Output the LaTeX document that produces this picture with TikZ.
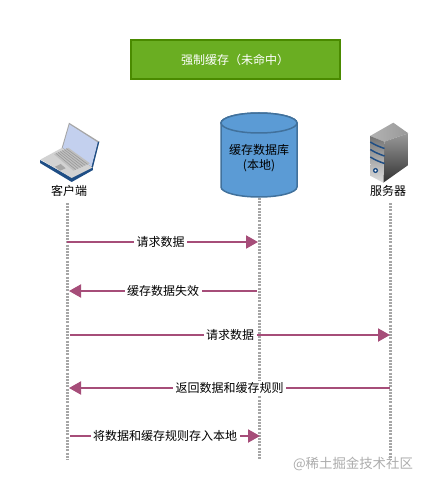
\documentclass[tikz,border=0pt]{standalone}
\usepackage{fontspec}
\setmainfont{Noto Sans CJK SC}
\usetikzlibrary{arrows.meta}
\definecolor{titlegreen}{HTML}{6AAE22}
\definecolor{titleedge}{HTML}{4A8A00}
\definecolor{dbblue}{HTML}{5B9BD5}
\definecolor{dbedge}{HTML}{41719C}
\definecolor{msgcolor}{HTML}{A64D79}
\definecolor{lapblue}{HTML}{1F4E85}
\definecolor{lapscreen}{HTML}{C3D0EE}
\tikzset{
  title/.style={draw=titleedge, fill=titlegreen, line width=2pt, text=white, minimum width=209pt, minimum height=39pt, font=\fontsize{12}{14}\selectfont},
  lifeline/.style={draw=gray!70, line width=3pt, dash pattern=on 2pt off 1.2pt},
  msg/.style={draw=msgcolor, line width=2pt, -{Triangle[length=12pt,width=13pt]}},
  msglabel/.style={fill=white, inner xsep=2.5pt, inner ysep=1pt, text=black, font=\fontsize{12}{14}\selectfont},
  caption/.style={font=\fontsize{12}{14}\selectfont}
}
\begin{document}
\begin{tikzpicture}[x=1pt, y=-1pt]
  \useasboundingbox (0,0) rectangle (428,486);
  \node[title] (head) at (235,60) {强制缓存（未命中）};

  % laptop
  \fill[gray!70] (69,122.7) -- (61.7,148) -- (92.7,168) -- (99.3,141.7) -- cycle;
  \fill[lapblue] (99.3,141.7) -- (92.7,168) -- (91,168) -- (97.5,142) -- cycle;
  \fill[lapscreen] (69.5,124.5) -- (97.7,142.5) -- (91.5,166.5) -- (62.8,147.8) -- cycle;
  \fill[lapblue] (40,160) -- (40,163) -- (71.7,182) -- (93,170) -- (92.7,167) -- (71.7,177.5) -- cycle;
  \fill[gray!35] (40.5,159.5) -- (71.7,178) -- (92.5,167.5) -- (61.7,148) -- cycle;
  \fill[gray!50] (54,154.3) -- (68.3,147.7) -- (90,163.3) -- (73.3,170.7) -- cycle;
  \foreach \i in {1,...,6}
    \draw[gray!80, line width=.6pt] ({54+\i*14.3/7},{154.3-\i*6.6/7}) -- ({73.3+\i*16.7/7},{170.7-\i*7.4/7});
  \fill[gray!70] (55,166.7) -- (60.7,164) -- (65.7,168.3) -- (60,170.7) -- cycle;
  \node[caption] (client) at (69,191) {客户端};

  % database
  \fill[dbblue, draw=dbedge, line width=1.5pt] (221,123) arc[x radius=38, y radius=10, start angle=180, end angle=360] -- (297,187) arc[x radius=38, y radius=10, start angle=0, end angle=180] -- cycle;
  \draw[fill=dbblue, draw=dbedge, line width=1.5pt] (259,123) ellipse[x radius=38, y radius=10];
  \node[align=center, font=\fontsize{12}{15}\selectfont] (db) at (259,158) {缓存数据库\\(本地)};
  \coordinate (dbbottom) at (259,198);

  % server
  \shade[left color=gray!60, right color=gray!80] (393.3,122.7) -- (370,136) -- (384.3,141.7) -- (408.3,133.3) -- cycle;
  \shade[top color=gray!80, bottom color=black!80] (384.3,141.7) -- (408.3,133.3) -- (408.3,165) -- (383.3,182.7) -- cycle;
  \shade[top color=black!55, middle color=gray!40, bottom color=gray!25] (370,136) -- (384.3,141.7) -- (383.3,182.7) -- (370.7,176) -- cycle;
  \foreach \i in {0,1,2}
    \draw[lapblue, line width=1.5pt] (370.3,{142+\i*7.5}) .. controls (375,{145+\i*7.5}) and (380,{147+\i*7.5}) .. (384.5,{148.5+\i*7.5});
  \fill[lapblue] (375.5,170.5) circle (2.6pt);
  \fill[white] (375.5,170.5) circle (1.2pt);
  \node[caption] (server) at (388,191) {服务器};

  % lifelines
  \coordinate (c0) at (67,203);
  \coordinate (c1) at (67,460);
  \coordinate (d1) at (259,460);
  \coordinate (s0) at (390,203);
  \coordinate (s1) at (390,460);
  \path[lifeline] (c0) -- (c1);
  \path[lifeline] (dbbottom) -- (d1);
  \path[lifeline] (s0) -- (s1);

  % messages
  \coordinate (a0) at (67,242);  \coordinate (a1) at (258,242);
  \coordinate (b0) at (257,291); \coordinate (b1) at (69,291);
  \coordinate (e0) at (70,335);  \coordinate (e1) at (390,335);
  \coordinate (f0) at (390,388); \coordinate (f1) at (69,388);
  \coordinate (g0) at (70,436); \coordinate (g1) at (260,436);
  \draw[msg] (a0) -- node[msglabel, pos=.49] (m1) {请求数据} (a1);
  \draw[msg] (b0) -- node[msglabel, pos=.5] (m2) {缓存数据失效} (b1);
  \draw[msg] (e0) -- node[msglabel, pos=.5] (m3) {请求数据} (e1);
  \draw[msg] (f0) -- node[msglabel, pos=.5] (m4) {返回数据和缓存规则} (f1);
  \draw[msg] (g0) -- node[msglabel, pos=.5] (m5) {将数据和缓存规则存入本地} (g1);

  \node[text=gray!65, font=\fontsize{13.4}{15}\selectfont] (mark) at (353,464) {@稀土掘金技术社区};
\end{tikzpicture}
\end{document}
